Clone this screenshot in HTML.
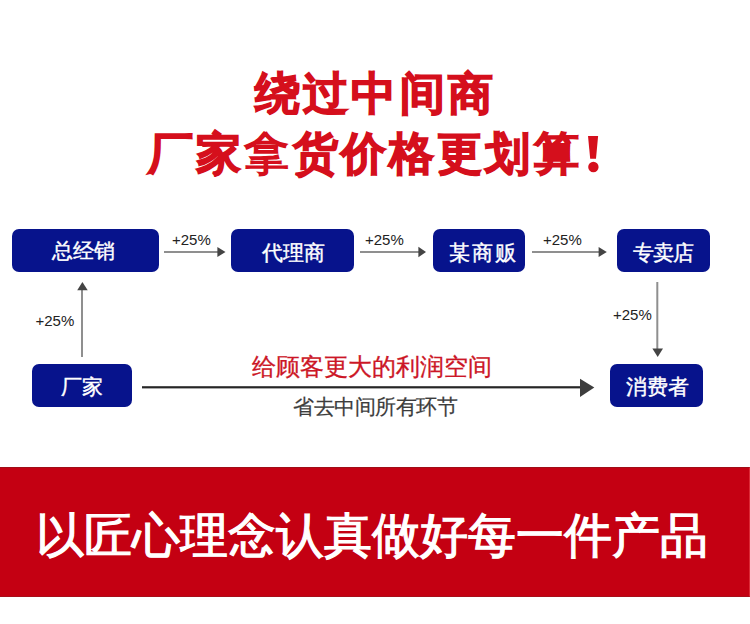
<!DOCTYPE html>
<html><head><meta charset="utf-8">
<style>
html,body{margin:0;padding:0;}
body{width:750px;height:624px;background:#fff;position:relative;overflow:hidden;font-family:"Liberation Sans",sans-serif;}
.t{position:absolute;white-space:nowrap;line-height:1;}
.title{color:#d50f1c;font-size:45px;letter-spacing:3.2px;font-weight:900;-webkit-text-stroke:1.4px #d50f1c;}
.box{position:absolute;background:#07138c;border-radius:7px;}
.bt{position:absolute;white-space:nowrap;line-height:1;color:#fff;font-size:21px;-webkit-text-stroke:0.4px #fff;}
.pct{position:absolute;font-size:15px;color:#222;line-height:1;white-space:nowrap;}
.band{position:absolute;left:0;top:467px;width:750px;height:130px;background:#c40012;box-sizing:border-box;border-top:1px solid #a00e18;border-bottom:1px solid #a80e1a;border-right:1px solid #dc2a36;}
svg{position:absolute;left:0;top:0;}
</style></head><body>
<div class="t title" style="left:255px;top:71px;">绕过中间商</div>
<div class="t title" style="left:148px;top:131px;">厂家<span style="font-weight:400;-webkit-text-stroke:1.6px #d50f1c;">拿</span>货价格更划算</div>

<div class="box" style="left:12px;top:229px;width:147px;height:43px;"></div>
<div class="box" style="left:231px;top:229px;width:123px;height:43px;"></div>
<div class="box" style="left:433px;top:229px;width:92px;height:43px;"></div>
<div class="box" style="left:617px;top:229px;width:93px;height:43px;"></div>
<div class="box" style="left:32px;top:364px;width:100px;height:43px;"></div>
<div class="box" style="left:610px;top:364px;width:93px;height:43px;"></div>

<div class="bt" style="left:52px;top:240px;">总经销</div>
<div class="bt" style="left:262px;top:242px;">代理商</div>
<div class="bt" style="left:449px;top:242px;letter-spacing:2px;">某商贩</div>
<div class="bt" style="left:632.5px;top:242px;letter-spacing:-1px;">专卖店</div>
<div class="bt" style="left:61px;top:376px;">厂家</div>
<div class="bt" style="left:626px;top:376px;">消费者</div>

<svg width="750" height="624" viewBox="0 0 750 624">
  <g fill="#8f8f8f">
    <rect x="164" y="251" width="54" height="2"/>
    <rect x="360" y="251" width="59" height="2"/>
    <rect x="532" y="251" width="67" height="2"/>
    <rect x="81" y="289" width="2" height="68"/>
    <rect x="656.3" y="282" width="2" height="67"/>
  </g>
  <g fill="#444">
    <polygon points="217.4,247 225.5,252 217.4,257"/>
    <polygon points="418.4,246.8 426,252 418.4,257.2"/>
    <polygon points="598.6,247 606.8,252 598.6,257"/>
    <polygon points="77.2,290.2 82.4,281.9 87.7,290.2"/>
    <polygon points="652.4,348.6 663,348.6 657.7,356.9"/>
  </g>
  <polygon points="588,136 598.1,136 596,158.7 590.2,158.7" fill="#d50f1c"/>
  <circle cx="593.4" cy="167" r="5.2" fill="#d50f1c"/>
  <rect x="142" y="386.2" width="439" height="2.2" fill="#262626"/>
  <polygon points="580,378.7 594.3,387.5 580,397" fill="#3d3d3d"/>
</svg>

<div class="pct" style="left:172px;top:232px;">+25%</div>
<div class="pct" style="left:365px;top:232px;">+25%</div>
<div class="pct" style="left:543px;top:232px;">+25%</div>
<div class="pct" style="left:35.5px;top:313px;">+25%</div>
<div class="pct" style="left:613px;top:306.5px;">+25%</div>

<div class="t" style="left:252px;top:355px;font-size:24px;color:#cc1626;-webkit-text-stroke:0.3px #cc1626;">给顾客更大的利润空间</div>
<div class="t" style="left:293px;top:396px;font-size:21px;letter-spacing:-0.5px;color:#3c3c3c;-webkit-text-stroke:0.2px #3c3c3c;">省去中间所有环节</div>

<div class="band"></div>
<div class="t" style="left:36px;top:512px;font-size:48px;color:#fff;-webkit-text-stroke:1.2px #fff;">以匠心理念认真做好每一件产品</div>
</body></html>
